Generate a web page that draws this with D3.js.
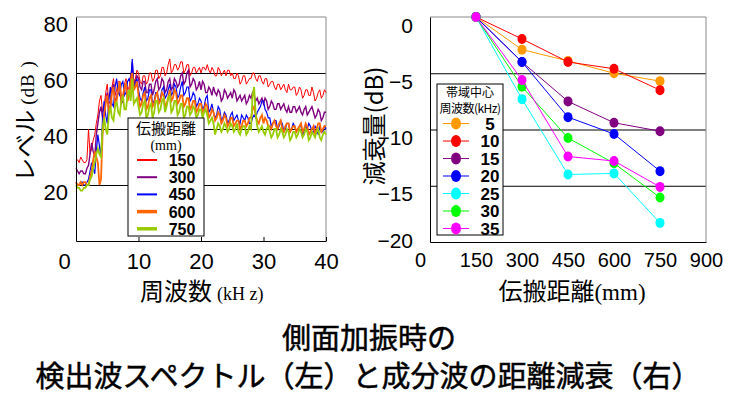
<!DOCTYPE html>
<html>
<head>
<meta charset="utf-8">
<script src="https://cdn.jsdelivr.net/npm/d3@7"></script>
<style>
  body { margin: 0; background: #fff; }
  svg { display: block; }
</style>
</head>
<body>
<div id="container"></div>
<script>
/* CONSTANTS AND GLOBALS */
const width = 738,
  height = 397;
const sans = "'Liberation Sans', Arial, sans-serif",
  jp = "'Noto Sans CJK JP', sans-serif",
  serif = "'Liberation Serif', serif";

/* DATA: left, spectra 0..40 kHz every 0.25 kHz (dB) */
const freqStep = 0.25;
const spec150 = [29,29,28,30,29,28,28,29,40,31,33,36,38,42,45,50,52,46,48,53,
  56,49,50,55,58,52,54,57,57,51,52,56,58,54,55,59,62,57,58,61,
  60,57,56,59,59,56,57,60,60,57,58,61,61,58,59,62,62,59,60,63,
  65,60,61,63,63,61,62,64,64,60,61,63,63,59,60,62,62,60,61,62,
  60,62,62,61,63,61,60,62,61,59,59,62,61,59,60,61,59,61,61,59,
  60,58,58,60,59,56,57,59,59,56,57,58,58,60,60,58,57,59,59,57,
  56,58,58,55,56,57,57,55,54,56,56,54,55,56,54,53,56,54,54,55,
  55,52,53,55,54,51,52,54,54,52,52,55,53,50,51,53,54,51,52,54,
  53];
const spec300 = [26,25,24,25,25,24,24,26,27,31,35,32,30,38,42,46,48,44,45,50,
  53,47,48,54,56,50,51,55,55,49,50,54,56,51,53,57,64,56,57,59,
  58,55,54,57,57,53,53,56,56,52,54,57,58,54,55,58,57,53,54,57,
  58,54,55,58,57,55,56,59,60,56,57,60,61,55,56,58,57,54,55,57,
  54,57,56,53,53,55,54,52,55,53,52,54,53,50,51,54,53,51,52,53,
  51,54,53,50,51,52,50,51,52,49,50,52,51,53,52,50,51,49,50,51,
  49,51,50,47,48,50,49,47,47,49,49,47,48,49,47,46,48,46,46,48,
  48,46,47,48,46,45,47,48,45,46,47,48,46,44,45,47,46,43,44,46,
  46];
const spec450 = [21,20,20,21,21,20,20,21,22,25,28,26,24,32,38,34,30,44,50,45,
  42,50,55,49,48,55,58,53,52,56,57,52,53,57,58,56,65,55,56,58,
  54,51,50,53,55,50,51,54,54,49,50,53,53,50,51,54,55,51,52,54,
  56,52,53,56,55,51,52,55,57,52,53,55,55,50,51,53,52,48,49,51,
  50,47,48,51,52,46,47,49,46,44,45,48,47,43,44,46,45,42,43,45,
  46,43,44,45,43,42,45,44,43,45,44,42,42,44,45,44,46,47,48,50,
  50,47,46,44,44,41,42,43,43,40,41,43,42,39,40,42,42,39,40,42,
  41,39,40,41,41,38,39,41,40,42,41,39,39,41,40,38,41,39,39,41,
  40];
const spec600 = [21,20,20,21,20,21,21,20,20,23,25,29,32,30,28,20,22,38,45,49,
  52,46,47,53,55,49,50,54,57,50,51,55,56,50,52,57,60,54,55,57,
  52,48,49,52,53,47,48,51,52,48,49,52,53,49,50,53,52,48,49,51,
  54,50,51,54,53,49,50,52,52,48,49,51,51,47,48,50,50,46,47,49,
  49,46,47,49,48,44,45,47,46,43,44,46,45,42,43,45,44,41,42,44,
  44,41,42,43,43,40,41,43,43,41,42,44,44,47,48,45,43,42,44,45,
  42,44,43,41,41,40,42,43,41,40,42,43,40,39,41,42,42,39,40,41,
  41,39,40,41,42,39,40,42,41,38,39,40,41,38,40,42,42,39,40,41,
  41];
const spec750 = [20,19,19,18,18,19,19,20,20,22,23,26,28,31,33,31,30,40,44,40,
  38,45,48,44,43,48,50,46,45,50,52,47,47,52,54,50,58,49,50,51,
  48,45,46,49,50,44,45,48,49,44,46,50,50,46,47,50,51,46,48,51,
  52,46,47,50,50,45,46,49,49,44,45,48,48,45,46,48,47,44,45,47,
  47,44,46,47,45,42,43,44,42,38,40,42,41,39,40,42,41,39,40,42,
  41,39,40,42,39,38,40,41,41,38,39,41,40,52,55,45,41,39,40,41,
  39,38,40,41,39,37,38,40,40,37,38,40,39,37,38,40,39,36,37,39,
  39,37,38,40,39,37,38,40,39,36,37,39,38,37,39,40,37,36,38,39,
  38];
const specLabels = ["150", "300", "450", "600", "750"];
const specColors = ["#ff0000", "#800080", "#0000ff", "#ff6600", "#99cc00"];
const specWidths = [1, 1.4, 1.2, 1.8, 1.8];
const freqTicks = [0, 10, 20, 30, 40];
const levelTicks = [20, 40, 60, 80];

/* DATA: right, attenuation vs distance (dB) */
const distances = [150, 300, 450, 600, 750];
const att5 = [0, -2.9, -3.9, -5.0, -5.7];
const att10 = [0, -1.95, -4.0, -4.6, -6.5];
const att15 = [0, -4.0, -7.5, -9.4, -10.15];
const att20 = [0, -4.0, -8.9, -10.4, -13.7];
const att25 = [0, -7.3, -14.0, -13.9, -18.3];
const att30 = [0, -6.2, -10.75, -13.0, -16.05];
const att35 = [0, -5.6, -12.4, -12.8, -15.1];
const bandLabels = ["5", "10", "15", "20", "25", "30", "35"];
const bandColors = ["#ff9900", "#ff0000", "#800080", "#0000ff", "#00ffff", "#00ff00", "#ff00ff"];
const distTicks = [0, 150, 300, 450, 600, 750, 900];
const attTicks = [0, -5, -10, -15, -20];

const spectra = [spec150, spec300, spec450, spec600, spec750].map((v, i) => ({
  label: specLabels[i], color: specColors[i], w: specWidths[i],
  values: v.map((d, j) => ({ f: j * freqStep, db: d }))
}));
const bands = [att5, att10, att15, att20, att25, att30, att35].map((v, i) => ({
  label: bandLabels[i], color: bandColors[i],
  values: v.map((d, j) => ({ dist: distances[j], db: d }))
}));

const svg = d3.select("#container")
  .append("svg")
  .attr("width", width)
  .attr("height", height)
  .style("background-color", "white");

/* ---------- LEFT CHART ---------- */
const xL = d3.scaleLinear().domain([0, 40]).range([76, 326]);
const yL = d3.scaleLinear().domain([0, 80]).range([241, 17]);

// grid
svg.append("g")
  .attr("transform", `translate(${xL(0)},0)`)
  .call(d3.axisLeft(yL).tickValues([20, 40, 60]).tickSize(-(xL(40) - xL(0))).tickFormat(""))
  .call(g => g.select(".domain").remove())
  .call(g => g.selectAll("line").attr("stroke", "#000"));
// frame
svg.append("path")
  .attr("d", `M${xL(0)},${yL(80)}H${xL(40)}V${yL(0)}`)
  .attr("fill", "none").attr("stroke", "#888");

// spectra
const lineL = d3.line().x(d => xL(d.f)).y(d => yL(d.db));
svg.selectAll(".spec")
  .data(spectra)
  .join("path")
  .attr("class", "spec")
  .attr("d", d => lineL(d.values))
  .attr("fill", "none")
  .attr("stroke", d => d.color)
  .attr("stroke-width", d => d.w)
  .attr("stroke-linejoin", "miter");

// axes
svg.append("g")
  .attr("transform", `translate(0,${yL(0)})`)
  .call(d3.axisBottom(xL).tickValues(freqTicks).tickSizeInner(-4).tickSizeOuter(0).tickPadding(12))
  .call(g => g.selectAll("line").attr("stroke", "#000"))
  .call(g => g.select(".domain").attr("stroke", "#000"))
  .call(g => g.selectAll("text").attr("font-family", sans).attr("font-size", 22).attr("fill", "#000"))
  .call(g => g.selectAll(".tick").filter(d => d === 0).select("text").attr("dx", -12));
svg.append("g")
  .attr("transform", `translate(${xL(0)},0)`)
  .call(d3.axisLeft(yL).tickValues(levelTicks).tickSize(0).tickPadding(8))
  .call(g => g.select(".domain").attr("stroke", "#000"))
  .call(g => g.selectAll("text").attr("font-family", sans).attr("font-size", 22).attr("fill", "#000").attr("dy", "0.68em"));

// axis titles
const xtL = svg.append("text").attr("x", 140).attr("y", 300).attr("fill", "#000");
xtL.append("tspan").attr("font-family", jp).attr("font-size", 24).text("周波数");
xtL.append("tspan").attr("font-family", serif).attr("font-size", 18).attr("dx", 5).text("(kH z)");
const ytL = svg.append("text")
  .attr("transform", "translate(34,121) rotate(-90)")
  .attr("text-anchor", "middle").attr("fill", "#000");
ytL.append("tspan").attr("font-family", jp).attr("font-size", 24).text("レベル");
ytL.append("tspan").attr("font-family", serif).attr("font-size", 19).attr("dx", 5)
  .attr("letter-spacing", 1).text("(dB )");

// legend
const legL = svg.append("g").attr("transform", "translate(128,118)");
legL.append("rect").attr("width", 76).attr("height", 118).attr("fill", "#fff").attr("stroke", "#000");
legL.append("text").attr("x", 38).attr("y", 16).attr("text-anchor", "middle")
  .attr("font-family", jp).attr("font-size", 15).text("伝搬距離");
legL.append("text").attr("x", 38).attr("y", 32).attr("text-anchor", "middle")
  .attr("font-family", serif).attr("font-size", 14).text("(mm)");
const legLItem = legL.selectAll(".item")
  .data(spectra)
  .join("g")
  .attr("transform", (d, i) => `translate(0,${42 + i * 17.2})`);
legLItem.append("line").attr("x1", 9).attr("x2", 29)
  .attr("stroke", d => d.color).attr("stroke-width", (d, i) => i >= 3 ? 3.5 : 2);
legLItem.append("text").attr("x", 54).attr("y", 6).attr("text-anchor", "middle")
  .attr("font-family", sans).attr("font-weight", "bold").attr("font-size", 16)
  .text(d => d.label);

/* ---------- RIGHT CHART ---------- */
const xR = d3.scaleLinear().domain([0, 900]).range([430, 706]);
const yR = d3.scaleLinear().domain([-20, 0]).range([242, 17]);

svg.append("g")
  .attr("transform", `translate(${xR(0)},0)`)
  .call(d3.axisLeft(yR).tickValues([-5, -10, -15]).tickSize(-(xR(900) - xR(0))).tickFormat(""))
  .call(g => g.select(".domain").remove())
  .call(g => g.selectAll("line").attr("stroke", "#000"));
svg.append("path")
  .attr("d", `M${xR(0)},${yR(0)}H${xR(900)}V${yR(-20)}`)
  .attr("fill", "none").attr("stroke", "#888");

svg.append("g")
  .attr("transform", `translate(0,${yR(-20)})`)
  .call(d3.axisBottom(xR).tickValues(distTicks).tickSize(0).tickPadding(11))
  .call(g => g.select(".domain").attr("stroke", "#000"))
  .call(g => g.selectAll("text").attr("font-family", sans).attr("font-size", 20).attr("fill", "#000"))
  .call(g => g.selectAll(".tick").filter(d => d === 0).select("text").attr("dx", -10));
svg.append("g")
  .attr("transform", `translate(${xR(0)},0)`)
  .call(d3.axisLeft(yR).tickValues(attTicks).tickSize(0).tickPadding(17))
  .call(g => g.select(".domain").attr("stroke", "#000"))
  .call(g => g.selectAll("text").attr("font-family", sans).attr("font-size", 21).attr("fill", "#000")
    .attr("dy", d => d === -20 ? "0.25em" : "0.72em"));

const lineR = d3.line().x(d => xR(d.dist)).y(d => yR(d.db));
const bandG = svg.selectAll(".band")
  .data(bands)
  .join("g")
  .attr("class", "band");
bandG.append("path")
  .attr("d", d => lineR(d.values))
  .attr("fill", "none")
  .attr("stroke", d => d.color)
  .attr("stroke-width", 1);
bandG.selectAll("ellipse")
  .data(d => d.values.map(v => ({ ...v, color: d.color })))
  .join("ellipse")
  .attr("cx", d => xR(d.dist))
  .attr("cy", d => yR(d.db))
  .attr("rx", 4.5).attr("ry", 5)
  .attr("fill", d => d.color);

const xtR = svg.append("text").attr("x", 572).attr("y", 300).attr("text-anchor", "middle").attr("fill", "#000");
xtR.append("tspan").attr("font-family", jp).attr("font-size", 24).text("伝搬距離");
xtR.append("tspan").attr("font-family", serif).attr("font-size", 23).text("(mm)");
svg.append("text")
  .attr("transform", "translate(383,126) rotate(-90)")
  .attr("text-anchor", "middle").attr("fill", "#000")
  .attr("font-family", jp).attr("font-size", 24)
  .text("減衰量(dB)");

const legR = svg.append("g").attr("transform", "translate(437,84)");
legR.append("rect").attr("width", 66).attr("height", 151).attr("fill", "#fff").attr("stroke", "#000");
legR.append("text").attr("x", 33).attr("y", 13).attr("text-anchor", "middle")
  .attr("font-family", jp).attr("font-size", 12).text("帯域中心");
legR.append("text").attr("x", 33).attr("y", 29).attr("text-anchor", "middle")
  .attr("font-family", jp).attr("font-size", 12).attr("letter-spacing", -0.5).text("周波数(kHz)");
const legRItem = legR.selectAll(".item")
  .data(bands)
  .join("g")
  .attr("transform", (d, i) => `translate(0,${39.5 + i * 17.5})`);
legRItem.append("line").attr("x1", 6).attr("x2", 32)
  .attr("stroke", d => d.color).attr("stroke-width", 1);
legRItem.append("ellipse").attr("cx", 19).attr("rx", 5).attr("ry", 6)
  .attr("fill", d => d.color);
legRItem.append("text").attr("x", 53).attr("y", 6).attr("text-anchor", "middle")
  .attr("font-family", sans).attr("font-weight", "bold").attr("font-size", 17)
  .text(d => d.label);

/* ---------- TITLE ---------- */
svg.append("text").attr("x", 369).attr("y", 349).attr("text-anchor", "middle")
  .attr("font-family", jp).attr("font-size", 29).attr("fill", "#000")
  .attr("stroke", "#000").attr("stroke-width", 0.5)
  .text("側面加振時の");
svg.append("text").attr("x", 368).attr("y", 387).attr("text-anchor", "middle")
  .attr("font-family", jp).attr("font-size", 29).attr("fill", "#000")
  .attr("stroke", "#000").attr("stroke-width", 0.5)
  .text("検出波スペクトル（左）と成分波の距離減衰（右）");
</script>
</body>
</html>
